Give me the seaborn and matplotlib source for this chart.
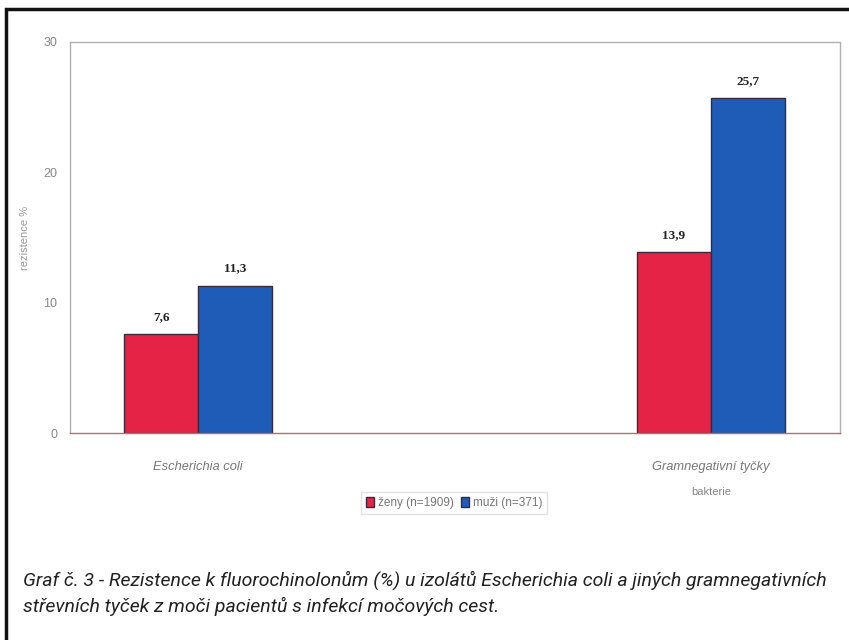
import matplotlib
matplotlib.use("Agg")
import matplotlib.pyplot as plt
import seaborn as sns
import pandas as pd
from matplotlib.patches import Rectangle

categories = ["Escherichia coli", "Gramnegativní tyčky"]
series = ["ženy (n=1909)", "muži (n=371)"]
zeny = [7.6, 13.9]
muzi = [11.3, 25.7]
value_labels_zeny = ["7,6", "13,9"]
value_labels_muzi = ["11,3", "25,7"]
yticks = [0, 10, 20, 30]

df = pd.DataFrame({
    "bakterie": categories * 2,
    "skupina": [series[0]] * 2 + [series[1]] * 2,
    "hodnota": zeny + muzi,
})

sns.set_theme(style="white")
plt.rcParams['font.family'] = ['Liberation Sans', 'DejaVu Sans']

fig = plt.figure(figsize=(8.49, 6.40), dpi=100)
ax = fig.add_axes([70/849, 1-433/640, (840-70)/849, (433-42)/640])

palette = {series[0]: "#E42346", series[1]: "#1E5CB8"}
sns.barplot(data=df, x="bakterie", y="hodnota", hue="skupina", palette=palette,
            width=0.288, ax=ax, edgecolor="#3a2a3a", linewidth=1.0, saturation=1)

ax.set_xlim(-0.25, 1.252)
ax.set_ylim(0, 30)
ax.set_yticks(yticks)
ax.set_yticklabels([str(t) for t in yticks], fontsize=9, color="#888888")
ax.tick_params(axis="y", length=0, pad=9)
ax.tick_params(axis="x", length=0, pad=20)
for lbl in ax.get_xticklabels():
    lbl.set_fontstyle("italic")
    lbl.set_fontsize(9.3)
    lbl.set_color("#777777")

ax.set_ylabel("rezistence %", fontsize=8, color="#999999", labelpad=10)
ax.set_xlabel("")
ax.text(1.0, -0.15, "bakterie", transform=ax.get_xaxis_transform(), ha="center",
        va="center", fontsize=8, color="#888888")

for side in ["top", "right", "left"]:
    ax.spines[side].set_linestyle((0, (1, 1)))
    ax.spines[side].set_color("#b0b0b0")
    ax.spines[side].set_linewidth(1.0)
ax.spines["bottom"].set_color("#b07070")
ax.spines["bottom"].set_linewidth(1.0)

# value labels
for cont, labs in zip(ax.containers, [value_labels_zeny, value_labels_muzi]):
    ax.bar_label(cont, labels=labs, padding=8, fontsize=9.5, fontweight="bold",
                 family="Liberation Serif", color="#222222")

leg = ax.legend(loc="center", bbox_to_anchor=(454/849, 1-503/640),
                bbox_transform=fig.transFigure, ncol=2, fontsize=8.5,
                frameon=True, handlelength=0.7, handleheight=0.9,
                handletextpad=0.3, columnspacing=0.6, borderpad=0.4,
                fancybox=False, edgecolor="#dddddd")
for t in leg.get_texts():
    t.set_color("#777777")

# outer frame
fig.patches.append(Rectangle((6/849, -0.1), 1.0, 1 - 9/640 + 0.1, transform=fig.transFigure,
                             fill=False, edgecolor="#111111", linewidth=2.5))

caption = ("Graf č. 3 - Rezistence k fluorochinolonům (%) u izolátů Escherichia coli a jiných gramnegativních\n"
           "střevních tyček z moči pacientů s infekcí močových cest.")
fig.text(23/849, 1-593/640, caption, fontsize=14, fontstyle="italic",
         family=["Roboto", "DejaVu Sans"], color="#222222",
         va="center", ha="left", linespacing=1.45)

fig.savefig("out.png", dpi=100, facecolor="white")
